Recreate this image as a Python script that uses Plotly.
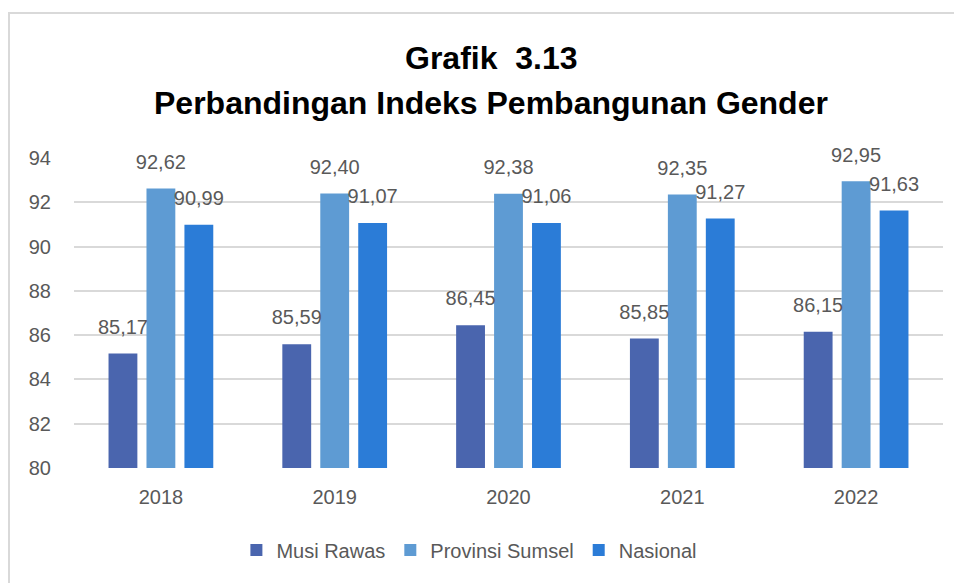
import plotly.graph_objects as go

years = ["2018", "2019", "2020", "2021", "2022"]
musi_rawas = [85.17, 85.59, 86.45, 85.85, 86.15]
provinsi_sumsel = [92.62, 92.40, 92.38, 92.35, 92.95]
nasional = [90.99, 91.07, 91.06, 91.27, 91.63]

series = [
    ("Musi Rawas", musi_rawas, "#4a65ae"),
    ("Provinsi Sumsel", provinsi_sumsel, "#5e9bd3"),
    ("Nasional", nasional, "#2b7cd7"),
]

FONT = "Liberation Sans"
GREY = "#595959"

# page body has an 8px margin, so the figure is sized to fit inside the window
W, H = 954, 575
L, R, T, B = 66, 19, 150, 115
PW, PH = W - L - R, H - T - B


def fmt(v):
    return f"{v:.2f}".replace(".", ",")


def px_x(x):
    return (x - L) / PW


def px_y(y):
    return (H - B - y) / PH


fig = go.Figure()
for name, vals, color in series:
    fig.add_trace(
        go.Bar(
            x=years,
            y=vals,
            name=name,
            offsetgroup=name,
            marker=dict(color=color, line=dict(width=0)),
            hoverinfo="y",
        )
    )
# value labels, lifted above the bar tops by an invisible marker
for name, vals, color in series:
    fig.add_trace(
        go.Scatter(
            x=years,
            y=vals,
            offsetgroup=name,
            mode="markers+text",
            marker=dict(size=22, opacity=0),
            text=[fmt(v) for v in vals],
            textposition="top center",
            textfont=dict(color=GREY, size=20, family=FONT),
            cliponaxis=False,
            showlegend=False,
            hoverinfo="skip",
        )
    )

fig.update_layout(
    width=W,
    height=H,
    barmode="group",
    scattermode="group",
    bargap=0.345,
    bargroupgap=0.24,
    paper_bgcolor="white",
    plot_bgcolor="white",
    font=dict(family=FONT, color=GREY),
    margin=dict(l=L, r=R, t=T, b=B),
    xaxis=dict(
        showgrid=False,
        showline=False,
        tickfont=dict(size=20, color=GREY),
        ticks="",
        ticklabelstandoff=15,
    ),
    yaxis=dict(
        range=[80, 94],
        dtick=2,
        showgrid=True,
        gridcolor="#d9d9d9",
        gridwidth=1.5,
        zeroline=False,
        showline=False,
        tickfont=dict(size=20, color=GREY),
        ticklabelstandoff=22,
    ),
    legend=dict(
        orientation="h",
        x=0.455,
        xanchor="center",
        y=px_y(542),
        yanchor="middle",
        font=dict(size=20, color=GREY),
        itemwidth=30,
    ),
    annotations=[
        dict(
            text="<b>Grafik  3.13</b>",
            xref="paper",
            yref="paper",
            x=0.48,
            y=px_y(50),
            xanchor="center",
            yanchor="middle",
            showarrow=False,
            font=dict(size=32, color="black", family=FONT),
        ),
        dict(
            text="<b>Perbandingan Indeks Pembangunan Gender</b>",
            xref="paper",
            yref="paper",
            x=0.48,
            y=px_y(95),
            xanchor="center",
            yanchor="middle",
            showarrow=False,
            font=dict(size=32, color="black", family=FONT),
        ),
    ],
    shapes=[
        dict(
            type="rect",
            xref="paper",
            yref="paper",
            x0=px_x(1),
            x1=px_x(1000),
            y0=px_y(620),
            y1=px_y(5),
            line=dict(color="#d9d9d9", width=2),
            fillcolor="rgba(0,0,0,0)",
            layer="below",
        )
    ],
)

fig.write_html("out.html")
